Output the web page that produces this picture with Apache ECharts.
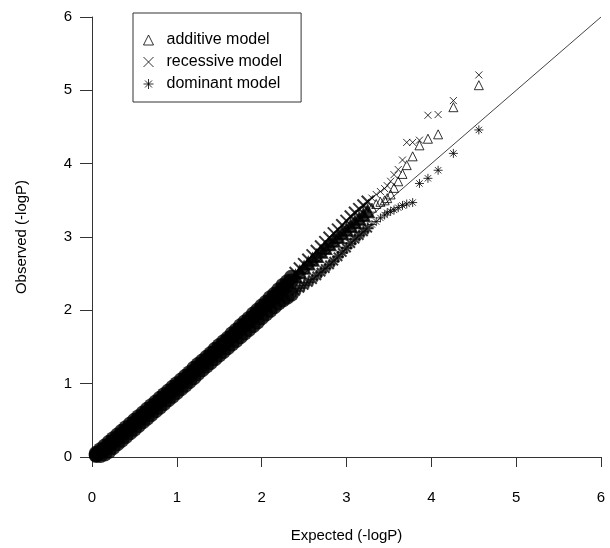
<!DOCTYPE html>
<html>
<head>
<meta charset="utf-8">
<script src="https://cdn.jsdelivr.net/npm/echarts@6/dist/echarts.min.js"></script>
<style>
  html, body { margin: 0; padding: 0; background: #fff; }
  #chart { width: 610px; height: 548px; }
</style>
</head>
<body>
<div id="chart"></div>
<script>
// expected -logP, shared by the three models
var expected = [
  0.05, 0.10, 0.15, 0.20, 0.25, 0.30, 0.35, 0.40, 0.45, 0.50,
  0.55, 0.60, 0.65, 0.70, 0.75, 0.80, 0.85, 0.90, 0.95, 1.00,
  1.05, 1.10, 1.15, 1.20, 1.25, 1.30, 1.35, 1.40, 1.45, 1.50,
  1.55, 1.60, 1.65, 1.70, 1.75, 1.80, 1.85, 1.90, 1.95, 2.00,
  2.05, 2.10, 2.15, 2.20, 2.25, 2.30, 2.35, 2.40, 2.45, 2.50,
  2.55, 2.60, 2.65, 2.70, 2.75, 2.80, 2.85, 2.90, 2.95, 3.00,
  3.05, 3.10, 3.15, 3.20, 3.25, 3.30, 3.35, 3.40,
  3.45, 3.48, 3.52, 3.56, 3.61, 3.66, 3.71, 3.78, 3.86, 3.96, 4.08, 4.26, 4.56
];

// observed -logP
var additive = [
  0.03, 0.07, 0.11, 0.16, 0.21, 0.26, 0.31, 0.36, 0.41, 0.46,
  0.51, 0.56, 0.61, 0.66, 0.71, 0.76, 0.81, 0.86, 0.91, 0.96,
  1.01, 1.06, 1.11, 1.17, 1.22, 1.27, 1.32, 1.38, 1.43, 1.48,
  1.53, 1.59, 1.64, 1.69, 1.75, 1.80, 1.85, 1.91, 1.96, 2.02,
  2.07, 2.12, 2.18, 2.23, 2.29, 2.34, 2.40, 2.46, 2.52, 2.58,
  2.64, 2.69, 2.74, 2.80, 2.85, 2.90, 2.95, 3.00, 3.05, 3.10,
  3.15, 3.20, 3.25, 3.30, 3.35, 3.40, 3.45, 3.48,
  3.50, 3.53, 3.58, 3.67, 3.76, 3.86, 3.98, 4.10, 4.25, 4.34, 4.40, 4.77, 5.07
];

var recessive = [
  0.05, 0.10, 0.15, 0.20, 0.25, 0.30, 0.35, 0.40, 0.45, 0.50,
  0.55, 0.60, 0.65, 0.70, 0.75, 0.80, 0.85, 0.90, 0.95, 1.00,
  1.05, 1.10, 1.15, 1.21, 1.26, 1.31, 1.36, 1.41, 1.47, 1.52,
  1.57, 1.62, 1.68, 1.73, 1.79, 1.84, 1.89, 1.95, 2.00, 2.06,
  2.11, 2.17, 2.22, 2.28, 2.34, 2.39, 2.45, 2.51, 2.57, 2.63,
  2.69, 2.75, 2.81, 2.87, 2.93, 2.99, 3.05, 3.10, 3.16, 3.22,
  3.28, 3.33, 3.38, 3.43, 3.48, 3.53, 3.58, 3.62,
  3.66, 3.70, 3.76, 3.85, 3.92, 4.05, 4.29, 4.29, 4.32, 4.66, 4.67, 4.86, 5.21
];

var dominant = [
  0.02, 0.02, 0.04, 0.08, 0.13, 0.18, 0.23, 0.28, 0.33, 0.38,
  0.43, 0.48, 0.53, 0.58, 0.63, 0.68, 0.73, 0.78, 0.83, 0.88,
  0.93, 0.98, 1.03, 1.08, 1.14, 1.19, 1.24, 1.29, 1.34, 1.39,
  1.44, 1.49, 1.54, 1.59, 1.64, 1.69, 1.74, 1.79, 1.84, 1.90,
  1.95, 2.00, 2.05, 2.10, 2.14, 2.18, 2.22, 2.26, 2.30, 2.34,
  2.38, 2.42, 2.47, 2.52, 2.57, 2.62, 2.67, 2.73, 2.79, 2.85,
  2.91, 2.97, 3.02, 3.07, 3.12, 3.17, 3.21, 3.26,
  3.30, 3.33, 3.35, 3.37, 3.40, 3.43, 3.45, 3.47, 3.73, 3.80, 3.91, 4.14, 4.46
];

var refLine = [[0, 0], [6, 6]];
var ticks = [0, 1, 2, 3, 4, 5, 6];

var FONT = 'Liberation Sans';
var crossPath = 'path://M0,0L10,10M10,0L0,10';
var starPath = 'path://M5,0L5,10M0,5L10,5M1.5,1.5L8.5,8.5M8.5,1.5L1.5,8.5';
var openStyle = { color: 'transparent', borderColor: '#000', borderWidth: 1 };
// thousands of overlapping points merge into a solid band at low values,
// a rough dark strand higher up, and single marks in the tail
var solidStyle = { color: '#000', borderWidth: 0 };
var strandStyle = { color: '#000', borderColor: '#000', borderWidth: 2 };

function pairs(ys) {
  var out = [];
  for (var i = 0; i < expected.length; i++) {
    var item = { value: [expected[i], ys[i]] };
    if (expected[i] < 2.4) {
      item.symbol = 'circle';
      item.symbolSize = 15;
      item.itemStyle = solidStyle;
    } else if (expected[i] < 3.3) {
      item.symbolSize = 12;
      item.itemStyle = strandStyle;
    }
    out.push(item);
  }
  return out;
}

var chart = echarts.init(document.getElementById('chart'));

var option = {
  animation: false,
  backgroundColor: '#fff',
  grid: { left: 92, right: 9, top: 17, bottom: 85 },
  legend: {
    orient: 'vertical',
    left: 133,
    top: 13,
    padding: [19, 19, 10, 10],
    borderColor: '#333',
    borderWidth: 1,
    itemWidth: 10,
    itemHeight: 10,
    itemGap: 6,
    textStyle: { fontFamily: FONT, fontSize: 16, color: '#000', lineHeight: 16, padding: [0, 0, 0, 8] },
    data: [
      { name: 'additive model', icon: 'triangle', itemStyle: openStyle },
      { name: 'recessive model', icon: crossPath, itemStyle: openStyle },
      { name: 'dominant model', icon: starPath, itemStyle: openStyle }
    ]
  },
  xAxis: {
    type: 'value',
    min: 0, max: 6, interval: 1,
    name: 'Expected (-logP)',
    nameLocation: 'middle',
    nameGap: 71,
    nameTextStyle: { fontFamily: FONT, fontSize: 15, color: '#000' },
    axisLine: { onZero: false, lineStyle: { color: '#333', width: 1 } },
    axisTick: { length: 10, lineStyle: { color: '#333' } },
    axisLabel: {
      margin: 33, fontFamily: FONT, fontSize: 15, color: '#000',
      formatter: function (v) { return ticks.indexOf(v) >= 0 ? String(v) : ''; }
    },
    splitLine: { show: false }
  },
  yAxis: {
    type: 'value',
    min: 0, max: 6, interval: 1,
    name: 'Observed (-logP)',
    nameLocation: 'middle',
    nameGap: 63,
    nameTextStyle: { fontFamily: FONT, fontSize: 15, color: '#000' },
    axisLine: { show: true, onZero: false, lineStyle: { color: '#333', width: 1 } },
    axisTick: { show: true, length: 12, lineStyle: { color: '#333' } },
    axisLabel: { margin: 20, fontFamily: FONT, fontSize: 15, color: '#000', padding: [4, 0, 0, 0] },
    splitLine: { show: false }
  },
  series: [
    {
      name: 'reference',
      type: 'line',
      data: refLine,
      symbol: 'none',
      lineStyle: { color: '#444', width: 1 },
      silent: true,
      z: 1
    },
    {
      name: 'additive model',
      type: 'scatter',
      symbol: 'triangle',
      symbolSize: 9,
      data: pairs(additive),
      itemStyle: openStyle,
      z: 2
    },
    {
      name: 'recessive model',
      type: 'scatter',
      symbol: crossPath,
      symbolSize: 7,
      data: pairs(recessive),
      itemStyle: openStyle,
      z: 2
    },
    {
      name: 'dominant model',
      type: 'scatter',
      symbol: starPath,
      symbolSize: 9,
      data: pairs(dominant),
      itemStyle: openStyle,
      z: 2
    }
  ]
};

chart.setOption(option);
</script>
</body>
</html>
